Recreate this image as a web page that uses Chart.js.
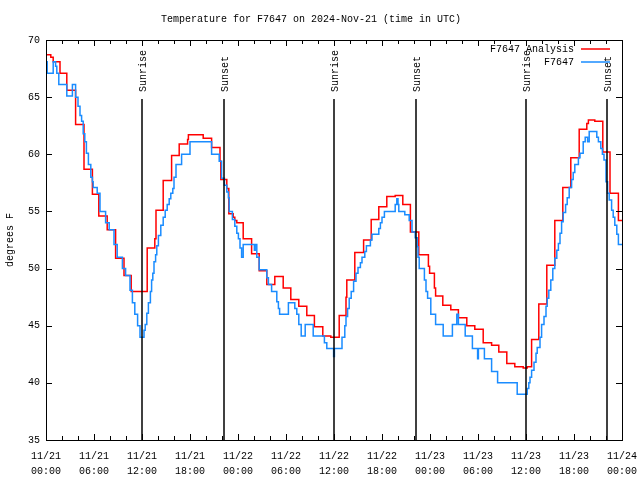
<!DOCTYPE html>
<html>
<head>
<meta charset="utf-8">
<script src="https://cdn.jsdelivr.net/npm/chart.js@4.4.1/dist/chart.umd.min.js"></script>
<style>
  html, body { margin: 0; padding: 0; background: #fff; }
</style>
</head>
<body>
<canvas id="chart" width="640" height="480"></canvas>
<script>

// hours after 11/21 00:00 UTC, where the value changes
const analysisHours = [0, 0.6, 0.9, 1.75, 2.6, 3.7, 4.75, 5.8, 6.6, 7.65, 8.7, 9.75, 10.65,
    12.65, 13.6, 13.75, 14.65, 15.7, 16.65, 17.7, 17.8, 19.65, 20.7, 21.75, 21.85, 22.6, 22.85,
    23.4, 23.6, 23.85, 24.65, 25.7, 26.65, 27.6, 28.6, 29.65, 30.6, 31.6, 32.6, 33.55, 34.6, 35.6,
    36.65, 37.5, 37.6, 38.6, 39.7, 40.65, 41.6, 42.6, 43.65, 44.6, 45.55, 46.6, 47.8, 47.95,
    48.55, 48.7, 49.6, 50.6, 51.55, 52.6, 53.6, 54.65, 55.7, 56.6, 57.6, 58.6, 59.65, 60.15,
    60.7, 61.6, 62.6, 63.6, 64.6, 65.6, 66.65, 67.6, 67.8, 68.6, 69.6, 70.5, 71.55, 72];
const analysisTemps = [68.7, 68.5, 68.1, 67.1, 65.6, 62.6, 58.7, 56.5, 54.6, 53.4, 50.9, 49.4, 48.0,
    51.8, 52.6, 55.1, 57.7, 59.9, 60.9, 61.3, 61.7, 61.4, 60.6, 59.4, 57.8, 57.0, 54.8,
    54.5, 54.2, 54.0, 52.6, 51.3, 49.8, 48.6, 49.3, 48.3, 47.3, 46.7, 45.9, 44.9, 44.1, 44.0,
    45.9, 47.5, 49.0, 51.4, 52.5, 54.3, 55.4, 56.3, 56.4, 55.6, 53.2, 51.2, 50.2, 49.6,
    48.3, 47.6, 46.8, 46.4, 45.7, 45.0, 44.7, 43.5, 43.3, 42.7, 41.7, 41.4, 41.3, 41.4,
    43.8, 46.9, 50.3, 54.2, 57.1, 59.7, 62.2, 62.7, 63.0, 62.9, 60.2, 56.6, 54.2, 54.2];

const obsHours = [0, 0.15, 0.9, 1.2, 1.35, 1.6, 2.6, 3.3, 3.7, 4.0, 4.25, 4.45, 4.65, 4.85, 5.05,
    5.3, 5.6, 5.8, 5.9, 6.4, 6.75, 7.45, 7.9, 8.5, 8.9, 9.55, 9.95, 10.5, 10.8, 11.1, 11.45, 11.75,
    12.25, 12.4, 12.6, 12.8, 13.05, 13.2, 13.35, 13.5, 13.7, 13.85, 14.05, 14.35, 14.65, 14.9,
    15.15, 15.4, 15.6, 15.85, 16.0, 16.25, 16.95, 18.0, 20.7, 21.65, 21.95, 22.3, 22.6, 22.8,
    22.9, 23.3, 23.6, 23.85, 24.05, 24.25, 24.45, 24.65, 26.05, 26.15, 26.35, 26.65, 27.6, 27.8,
    28.2, 28.85, 29.05, 29.2, 30.3, 31.1, 31.35, 31.6, 31.9, 32.4, 33.4, 34.8, 35.1, 35.95, 36.05,
    37.0, 37.35, 37.5, 37.7, 37.9, 38.15, 38.45, 38.75, 39.0, 39.3, 39.5, 39.85, 40.05, 40.55,
    40.75, 41.6, 41.8, 42.0, 42.3, 43.65, 43.85, 44.0, 44.1, 44.85, 45.4, 45.75, 46.15, 46.4,
    46.5, 46.65, 47.3, 47.5, 47.7, 48.1, 48.7, 49.65, 50.8, 51.35, 51.55, 52.4, 53.3, 53.95,
    54.05, 54.8, 55.7, 56.45, 58.9, 60.15, 60.35, 60.5, 60.7, 61.0, 61.25, 61.4, 61.75, 61.95,
    62.25, 62.5, 62.65, 62.85, 63.1, 63.35, 63.6, 63.85, 64.05, 64.25, 64.45, 64.65, 64.95,
    65.15, 65.4, 65.7, 65.9, 66.1, 66.55, 66.75, 67.15, 67.4, 67.7, 67.9, 68.85, 69.05, 69.35,
    69.55, 69.75, 70.0, 70.2, 70.4, 70.7, 70.9, 71.1, 71.35, 71.55, 72];
const obsTemps = [68.1, 67.1, 68.1, 67.7, 67.1, 66.1, 65.1, 66.1, 65.0, 64.2, 63.4, 62.9, 61.8, 61.1, 60.1,
    59.1, 58.0, 57.6, 57.1, 56.6, 55.0, 54.0, 53.4, 52.1, 51.0, 50.0, 49.4, 48.1, 47.0, 46.0, 45.0, 44.0,
    44.6, 45.1, 46.1, 47.0, 48.0, 49.0, 49.6, 50.6, 51.2, 52.0, 52.9, 53.8, 54.5, 55.1,
    55.6, 56.1, 56.6, 57.0, 58.0, 59.1, 60.0, 61.1, 60.0, 59.4, 57.9, 57.3, 56.7, 56.2,
    55.0, 54.3, 53.7, 53.1, 52.6, 51.8, 51.0, 52.1, 51.6, 52.1, 51.0, 49.9, 49.2, 48.6,
    48.0, 47.1, 46.5, 46.0, 47.0, 46.5, 46.0, 45.1, 44.1, 45.1, 44.1, 43.5, 43.0, 42.3, 43.0,
    44.0, 45.0, 45.8, 46.5, 47.4, 48.0, 48.9, 49.6, 50.1, 50.5, 51.0, 51.5, 52.0, 52.5,
    53.0, 53.5, 54.0, 54.5, 55.0, 55.6, 56.1, 55.6, 55.0, 54.7, 54.2, 53.2, 52.7, 51.9,
    51.0, 50.0, 49.0, 48.0, 47.4, 46.0, 45.1, 44.1, 45.1, 46.0, 45.1, 44.1, 43.0, 42.1,
    43.0, 42.1, 41.0, 40.0, 39.0, 39.5, 40.0, 40.5, 41.1, 41.8, 42.6, 43.1, 44.0, 45.1,
    45.8, 46.7, 47.4, 48.1, 49.0, 50.0, 50.9, 51.6, 52.2, 53.1, 54.1, 54.9, 55.6,
    56.2, 57.1, 57.8, 58.4, 59.1, 59.7, 60.1, 61.1, 61.5, 61.1, 62.0, 61.5, 61.1, 60.5,
    60.0, 59.5, 57.6, 56.6, 56.0, 55.1, 54.5, 53.8, 53.0, 52.1, 52.1];

const sunHours = [12.03, 22.3, 36.03, 46.3, 60.05, 70.15];
const sunLabels = ['Sunrise', 'Sunset', 'Sunrise', 'Sunset', 'Sunrise', 'Sunset'];

const dayLabels = ['11/21', '11/22', '11/23', '11/24'];
const timeLabels = ['00:00', '06:00', '12:00', '18:00'];

const FONT = 'Liberation Mono';

function toPoints(xs, ys) {
    return xs.map(function (x, i) { return { x: x, y: ys[i] }; });
}

// black frame, inward ticks, sunrise/sunset markers and legend like gnuplot
const gnuplotDecor = {
    id: 'gnuplotDecor',
    afterDatasetsDraw(chart) {
        const ctx = chart.ctx;
        const area = chart.chartArea;
        const x = chart.scales.x;
        const y = chart.scales.y;

        ctx.save();
        ctx.strokeStyle = '#000';
        ctx.fillStyle = '#000';

        // sun markers
        ctx.lineWidth = 1.5;
        ctx.font = '10px ' + FONT;
        sunHours.forEach(function (h, i) {
            const px = Math.round(x.getPixelForValue(h));
            ctx.beginPath();
            ctx.moveTo(px, area.top + 59);
            ctx.lineTo(px, area.bottom);
            ctx.stroke();
            ctx.save();
            ctx.translate(px + 1, area.top + 52);
            ctx.rotate(-Math.PI / 2);
            ctx.textAlign = 'left';
            ctx.textBaseline = 'middle';
            ctx.fillText(sunLabels[i], 0, 0);
            ctx.restore();
        });

        // frame
        ctx.lineWidth = 1;
        ctx.strokeRect(Math.round(area.left) + 0.5, Math.round(area.top) + 0.5,
            Math.round(area.right - area.left), Math.round(area.bottom - area.top));

        // ticks
        ctx.beginPath();
        y.ticks.forEach(function (t) {
            const py = Math.round(y.getPixelForValue(t.value)) + 0.5;
            ctx.moveTo(area.left, py);
            ctx.lineTo(area.left + 6, py);
            ctx.moveTo(area.right, py);
            ctx.lineTo(area.right - 6, py);
        });
        x.ticks.forEach(function (t) {
            const px = Math.round(x.getPixelForValue(t.value)) + 0.5;
            const len = t.value % 6 === 0 ? 6 : 4;
            ctx.moveTo(px, area.bottom);
            ctx.lineTo(px, area.bottom - len);
            ctx.moveTo(px, area.top);
            ctx.lineTo(px, area.top + len);
        });
        ctx.stroke();

        // legend, text right aligned with the sample on its right
        ctx.textAlign = 'right';
        ctx.textBaseline = 'middle';
        chart.data.datasets.forEach(function (ds, i) {
            const ly = area.top + 9 + i * 13;
            ctx.fillStyle = '#000';
            ctx.fillText(ds.label, area.right - 48, ly);
            ctx.strokeStyle = ds.borderColor;
            ctx.lineWidth = 1.5;
            ctx.beginPath();
            ctx.moveTo(area.right - 41, ly);
            ctx.lineTo(area.right - 12, ly);
            ctx.stroke();
        });
        ctx.restore();
    }
};

new Chart(document.getElementById('chart'), {
    type: 'line',
    data: {
        datasets: [{
            label: 'F7647 Analysis',
            data: toPoints(analysisHours, analysisTemps),
            borderColor: '#ff0000',
            borderWidth: 1.5,
            pointRadius: 0,
            stepped: true,
            order: 2
        }, {
            label: 'F7647',
            data: toPoints(obsHours, obsTemps),
            borderColor: '#1a8cff',
            borderWidth: 1.5,
            pointRadius: 0,
            stepped: true,
            order: 1
        }]
    },
    options: {
        responsive: false,
        animation: false,
        layout: {
            padding: { left: 0, right: 18, top: 0, bottom: 0 }
        },
        plugins: {
            legend: { display: false },
            tooltip: { enabled: false },
            title: {
                display: true,
                text: 'Temperature for F7647 on 2024-Nov-21 (time in UTC)',
                color: '#000',
                font: { family: FONT, size: 10, weight: 'normal' },
                padding: { top: 13, bottom: 15 }
            }
        },
        scales: {
            x: {
                type: 'linear',
                min: 0,
                max: 72,
                grid: { display: false, drawTicks: false },
                border: { display: false },
                afterFit: function (s) {
                    s.height = 40;
                    s.paddingLeft = 0;
                    s.paddingRight = 0;
                },
                ticks: {
                    stepSize: 2,
                    autoSkip: false,
                    maxRotation: 0,
                    padding: 9,
                    color: '#000',
                    font: { family: FONT, size: 10, lineHeight: 1.5 },
                    callback: function (v) {
                        if (v % 6 !== 0) return '';
                        return [dayLabels[Math.floor(v / 24)], timeLabels[(v % 24) / 6]];
                    }
                }
            },
            y: {
                min: 35,
                max: 70,
                grid: { display: false, drawTicks: false },
                border: { display: false },
                afterFit: function (s) { s.width = 46; },
                ticks: {
                    stepSize: 5,
                    padding: 6,
                    color: '#000',
                    font: { family: FONT, size: 10 }
                },
                title: {
                    display: true,
                    text: 'degrees F',
                    color: '#000',
                    font: { family: FONT, size: 10 },
                    padding: { top: 4, bottom: 0 }
                }
            }
        }
    },
    plugins: [gnuplotDecor]
});

</script>
</body>
</html>
